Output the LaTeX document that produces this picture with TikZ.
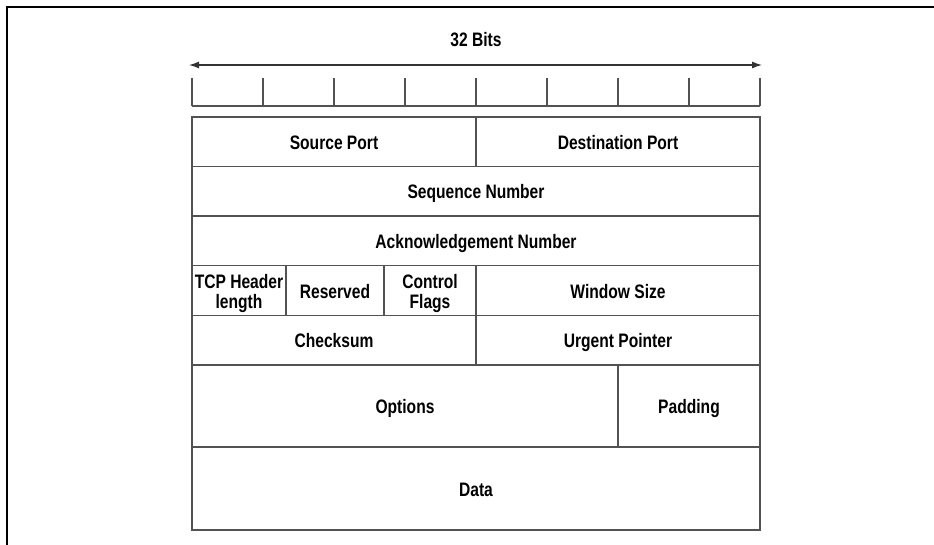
\documentclass[tikz,border=0pt]{standalone}
\usepackage{fontspec}
\setmainfont{Liberation Sans}[FakeStretch=0.8]
\usepackage{tikz}
\usetikzlibrary{arrows.meta, positioning}

\begin{document}
\begin{tikzpicture}[
    x=1pt, y=-1pt,
    node distance=0pt,
    feld/.style={draw=black!68, line width=1.4pt, minimum height=49.6pt,
                 inner sep=0pt, outer sep=0pt, align=center,
                 text height=16pt, text depth=1pt,
                 font=\fontsize{19.5}{20}\selectfont\bfseries},
    duabaris/.style={text height=36pt},
    garis/.style={draw=black!68, line width=1.4pt},
    panah/.style={{Latex[length=10pt,width=7pt]}-{Latex[length=10pt,width=7pt]}, line width=1.2pt, black!80}
  ]
    \useasboundingbox (0,0) rectangle (934,545);
    \draw[line width=1.5pt] (934,7) -- (7,7) -- (7,545);

    % penggaris 32 bit
    \node[font=\fontsize{19.5}{20}\selectfont\bfseries] (judul) at (476,40) {32 Bits};
    \coordinate (kiri) at (189,65);
    \coordinate (kanan) at (762,65);
    \draw[panah] (kiri) -- (kanan);
    \foreach \i in {0,...,8}
      \draw[garis] (192+71*\i,78) -- (192+71*\i,106);
    \draw[garis] (192,106) -- (760,106);

    % header TCP
    \node[feld, minimum width=284pt, anchor=north west] (src) at (192,117) {Source Port};
    \node[feld, minimum width=284pt, right=of src] (dst) {Destination Port};
    \node[feld, minimum width=568pt, below=of src.south west, anchor=north west] (seq) {Sequence Number};
    \node[feld, minimum width=568pt, below=of seq] (ack) {Acknowledgement Number};
    \node[feld, duabaris, minimum width=94pt, below=of ack.south west, anchor=north west] (hlen) {TCP Header\\length};
    \node[feld, minimum width=98pt, right=of hlen] (res) {Reserved};
    \node[feld, duabaris, minimum width=92pt, right=of res] (flag) {Control\\Flags};
    \node[feld, minimum width=284pt, right=of flag] (win) {Window Size};
    \node[feld, minimum width=284pt, below=of hlen.south west, anchor=north west] (cks) {Checksum};
    \node[feld, minimum width=284pt, right=of cks] (urg) {Urgent Pointer};
    \node[feld, minimum width=426pt, minimum height=82pt, below=of cks.south west, anchor=north west] (opt) {Options};
    \node[feld, minimum width=142pt, minimum height=82pt, right=of opt] (pad) {Padding};
    \node[feld, minimum width=568pt, minimum height=83pt, below=of opt.south west, anchor=north west] (data) {Data};
\end{tikzpicture}
\end{document}
